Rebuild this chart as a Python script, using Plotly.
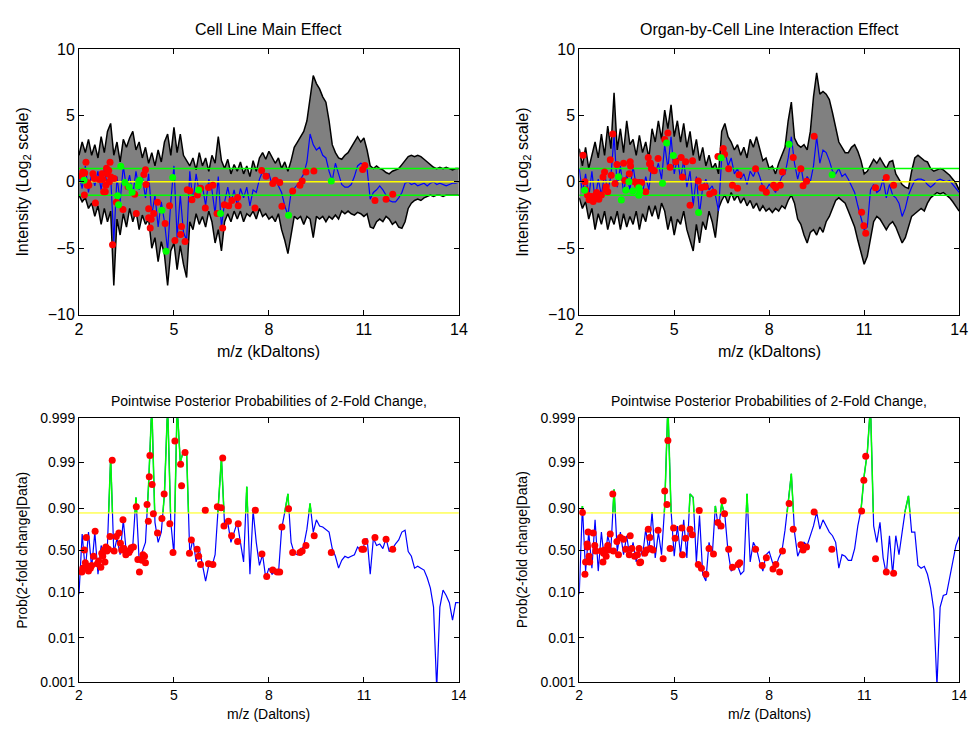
import numpy as np
import plotly.graph_objects as go

# ---------------- data ----------------
MZ = [2.0, 2.1, 2.2, 2.3, 2.4, 2.5, 2.6, 2.7, 2.8, 2.9,
      3.0, 3.1, 3.2, 3.3, 3.4, 3.5, 3.6, 3.7, 3.8, 3.9,
      4.0, 4.1, 4.2, 4.3, 4.4, 4.5, 4.6, 4.7, 4.8, 4.9,
      5.0, 5.1, 5.2, 5.3, 5.4, 5.5, 5.6, 5.7, 5.8, 5.9,
      6.0, 6.1, 6.2, 6.3, 6.4, 6.5, 6.6, 6.7, 6.8, 6.9,
      7.0, 7.1, 7.2, 7.3, 7.4, 7.5, 7.6, 7.7, 7.8, 7.9,
      8.0, 8.1, 8.2, 8.3, 8.4, 8.5, 8.6, 8.7, 8.8, 8.9,
      9.0, 9.1, 9.2, 9.3, 9.4, 9.5, 9.6, 9.7, 9.8, 9.9,
      10.0, 10.1, 10.2, 10.3, 10.4, 10.5, 10.6, 10.7, 10.8, 10.9,
      11.0, 11.1, 11.2, 11.3, 11.4, 11.5, 11.6, 11.7, 11.8, 11.9,
      12.0, 12.1, 12.2, 12.3, 12.4, 12.5, 12.6, 12.7, 12.8, 12.9,
      13.0, 13.1, 13.2, 13.3, 13.4, 13.5, 13.6, 13.7, 13.8, 13.9,
      14.0]

# Cell line main effect: upper / lower credible band and posterior mean (log2)
CL_UPPER = [2.0, 3.0, 2.2, 3.2, 2.0, 2.8, 1.8, 3.4, 2.2, 3.8,
            4.4, 2.0, 3.0, 1.5, 3.2, 2.6, 3.3, 3.8, 2.4, 3.0,
            1.8, 2.6, 1.4, 2.2, 1.2, 2.4, 1.5, 3.0, 3.6, 2.0,
            4.1, 2.2, 3.6, 2.0, 1.6, 1.2, 1.8, 0.9, 2.2, 1.2,
            1.8, 0.8, 2.0, 1.4, 3.4, 1.6, 1.0, 1.7, 0.6, 1.3,
            0.8, 1.5, 0.6, 1.2, 0.4, 1.6, 0.8, 1.8, 2.2, 1.7,
            2.3, 1.8, 1.4, 1.8, 1.0, 1.5, 0.8, 1.6, 2.6, 3.0,
            3.4, 3.8, 4.6, 6.5, 8.0, 7.4, 7.0, 6.4, 6.0, 4.6,
            2.8, 2.2, 1.8, 1.7, 2.0, 2.2, 2.6, 3.0, 3.4, 3.0,
            3.3, 2.4, 1.2, 1.0, 1.2, 1.0, 0.9, 0.7, 0.6, 0.8,
            0.9, 1.0, 1.3, 1.6, 1.9, 2.0, 1.9, 2.0, 1.9, 1.7,
            1.5, 1.3, 1.1, 1.0, 1.1, 1.0, 1.1, 1.0, 0.9, 1.0,
            1.0]
CL_LOWER = [-1.0, -1.5, -1.2, -2.0, -1.6, -2.6, -1.8, -3.2, -2.0, -3.0,
            -2.2, -7.8, -2.8, -4.0, -2.4, -3.4, -2.0, -3.0, -2.2, -3.6,
            -2.5, -3.2, -2.8, -5.0, -4.2, -6.0, -4.5, -5.5, -7.8, -5.2,
            -4.6, -6.6, -4.8, -6.2, -7.2, -3.0, -3.6, -2.4, -3.2, -2.6,
            -3.4, -2.2, -3.0, -4.6, -3.6, -5.2, -3.0, -2.4, -3.0, -2.2,
            -2.8, -2.2, -3.0, -2.4, -2.6, -2.2, -2.8, -2.0, -2.6, -2.4,
            -2.8, -2.6, -3.0, -2.4, -3.6, -4.4, -5.4, -4.0, -2.6, -2.8,
            -2.6, -3.2, -2.6, -2.8, -4.2, -2.6, -2.8, -2.6, -3.0, -2.6,
            -2.8, -2.5, -2.8, -2.2, -2.4, -2.2, -2.4, -2.5, -2.3, -2.4,
            -2.6, -2.4, -3.4, -3.5, -3.0, -2.8, -3.0, -2.6, -2.8, -3.2,
            -3.0, -3.4, -3.5, -3.0, -2.0, -1.6, -1.4, -1.3, -1.4, -1.2,
            -1.1, -1.0, -1.1, -1.0, -1.0, -1.1, -1.0, -1.0, -1.0, -1.0,
            -1.0]
CL_MEAN = [0.5, -0.5, 1.2, -0.8, 0.6, -0.3, 0.8, -0.6, 1.0, -0.4,
           0.5, -4.5, 0.4, -1.5, 1.2, -0.5, 0.5, -1.0, 0.8, -0.6,
           0.4, -1.2, 0.6, -2.5, -1.0, -3.4, -1.5, -3.0, -5.2, -1.5,
           1.2, -4.2, -1.0, -3.8, -4.4, 0.8, -1.5, 0.6, -0.8, -0.3,
           -1.8, 0.2, -0.6, -2.4, 0.4, -3.4, -1.5, -0.4, -1.6, -0.6,
           -1.8, -0.5, -1.2, -0.4, -1.8, -0.6, -0.8, 0.2, 0.8, 0.4,
           0.6, -0.2, 0.2, -0.3, -0.8, -1.8, -2.5, -0.8, -0.5, -0.2,
           0.2, 0.6, 1.5, 3.6, 2.8, 2.4, 2.6, 2.0, 1.8, 0.8,
           0.1, 1.4, 0.6, -0.2, -0.4, -0.4, -0.2, 0.4, 1.2, 1.4,
           1.3, 1.0, -1.3, -0.8, -0.6, -0.3, -0.6, -1.0, -1.4, -1.5,
           -1.5, -1.2, -0.8, -0.1, 0.0, -0.2, -0.1, -0.3, -0.2, -0.1,
           -0.3, -0.1, 0.0, -0.2, -0.1, -0.2, -0.3, -0.2, -0.1, -0.1,
           0.0]

# Organ-by-cell line interaction effect
OC_UPPER = [2.5, 1.2, 2.6, 1.0, 2.0, 3.0, 1.8, 3.6, 2.0, 4.2,
            2.5, 6.7, 2.4, 4.0, 2.2, 4.6, 2.8, 3.2, 2.0, 3.5,
            2.2, 3.0, 1.8, 4.0, 3.0, 4.6, 3.2, 5.4, 4.0, 5.8,
            3.4, 4.6, 3.0, 4.4, 2.6, 3.8, 2.0, 3.2, 1.6, 2.6,
            1.2, 2.0, 1.0, 1.4, 0.6, 3.8, 4.4, 3.4, 3.0, 2.4,
            2.8, 2.0, 2.6, 1.8, 3.2, 2.6, 3.4, 2.4, 1.6, 1.8,
            1.0, 1.2, 0.6, 1.4, 2.0, 2.6, 4.6, 6.0, 3.3, 2.8,
            2.6, 2.8, 2.4, 3.8, 6.4, 8.2, 6.6, 6.8, 6.6, 6.2,
            5.2, 4.0, 3.0, 2.6, 2.2, 2.2, 2.6, 2.8, 2.3, 1.6,
            0.6, 0.8, 1.2, 1.7, 1.4, 1.8, 1.4, 1.0, 1.5, 1.6,
            0.6, 0.2, -0.2, -0.4, -0.5, 0.8, 1.8, 2.0, 1.8, 1.6,
            1.5, 1.0, 0.8, 0.9, 1.0, 0.9, 0.7, 0.5, 0.2, -0.1,
            -0.6]
OC_LOWER = [-1.2, -2.0, -1.5, -2.8, -2.0, -3.6, -2.4, -3.2, -2.2, -3.6,
            -2.6, -3.2, -2.2, -3.6, -2.4, -3.4, -2.6, -3.2, -2.2, -3.6,
            -2.4, -3.0, -1.8, -2.6, -1.8, -2.8, -1.6, -2.2, -3.6, -2.6,
            -4.0, -2.8, -3.2, -2.2, -3.6, -4.4, -5.2, -3.2, -4.6, -3.0,
            -3.6, -2.2, -3.0, -4.2, -2.0, -1.4, -1.0, -1.6, -0.8, -1.4,
            -1.0, -1.6, -1.2, -1.8, -1.4, -2.0, -1.6, -2.2, -1.8, -2.2,
            -2.0, -2.3, -2.0, -2.2, -1.8, -2.0, -1.4, -1.0, -1.6, -2.8,
            -3.2, -4.0, -4.6, -3.8, -3.6, -4.0, -3.4, -3.8, -3.0, -2.6,
            -2.0, -1.4, -1.2, -1.4, -1.6, -2.2, -2.8, -3.4, -4.4, -5.2,
            -6.2, -5.6, -4.2, -3.0, -2.6, -2.8, -3.2, -3.6, -3.2, -3.0,
            -3.4, -4.0, -4.6, -4.2, -3.4, -2.6, -2.4, -2.2, -2.0, -2.2,
            -1.6, -1.2, -1.0, -0.8, -0.9, -0.8, -1.0, -1.2, -1.5, -1.9,
            -2.2]
OC_MEAN = [1.0, -0.8, 0.6, -1.2, 0.8, -1.4, 0.2, -1.0, 0.6, -0.6,
           0.4, 3.5, -0.4, 1.2, -0.8, 0.6, -0.6, 1.2, -0.4, 0.2,
           -0.8, 0.4, -0.6, 1.6, 0.6, 1.4, 0.2, 2.8, 1.0, 3.4,
           0.6, 1.8, 0.2, 1.6, -0.4, 0.8, -1.8, 0.4, -2.4, -0.4,
           0.2, -0.6, -0.3, -1.0, -2.2, 1.8, 2.4, 1.2, 1.8, 0.6,
           1.0, 0.2, 0.6, -0.2, 0.8, 0.4, 1.0, 0.4, -0.4, -0.6,
           -0.2, -0.4, -0.8, -0.2, 0.4, 0.6, 1.8, 3.4, 1.4, 0.2,
           1.2, -0.2, 0.4, 0.0, 1.2, 3.4, 1.4, 2.4, 2.2, 1.6,
           0.8, 0.6, 1.0, 0.4, 0.6, 0.2, -0.3, -0.8, -1.8, -2.6,
           -3.6, -3.4, -0.6, -0.2, -0.8, -0.6, 0.2, -1.2, -0.2, -1.0,
           -1.2, -1.6, -2.6, -2.0, -1.0, -0.4, 0.1, 0.2, 0.2, 0.1,
           -0.2, -0.4, -0.2, 0.1, 0.2, 0.1, 0.0, 0.1, -0.2, -0.5,
           -0.8]

# flagged locations (top panels)
CL_RED_X = [2.08, 2.12, 2.17, 2.18, 2.22, 2.26, 2.28, 2.31, 2.44, 2.49,
            2.52, 2.64, 2.70, 2.73, 2.75, 2.78, 2.83, 2.85, 2.87, 2.90,
            2.94, 2.96, 2.98, 3.01, 3.06, 3.11, 3.18, 3.39, 3.55, 3.76,
            3.81, 4.05, 4.10, 4.12, 4.20, 4.20, 4.25, 4.28, 4.36, 4.48,
            4.72, 4.86, 5.03, 5.21, 5.24, 5.35, 5.42, 5.50, 5.57, 5.74,
            5.84, 5.99, 6.09, 6.23, 6.36, 6.54, 6.59, 6.73, 6.83, 7.01,
            7.03, 7.56, 7.77, 7.91, 8.12, 8.20, 8.34, 8.41, 8.75, 8.98,
            9.05, 9.17, 9.42, 10.96, 11.03, 11.35, 11.70, 11.91]
CL_RED_Y = [0.44, 0.74, -0.98, 0.66, 1.47, -0.25, -0.07, -0.25, 0.61, 0.25,
            -1.59, 0.17, 0.25, 0.61, 0.17, -0.74, -0.74, -0.25, 1.03, 0.61,
            0.86, 0.0, 1.47, 0.37, -4.73, 0.25, -1.54, -2.08, -0.37, -0.93,
            -2.38, 0.56, 0.91, -0.2, -2.03, -2.7, -3.48, -2.82, -2.38, -1.54,
            -3.14, -1.79, -4.41, -3.97, -3.36, -4.49, -0.6, -0.66, -1.35, -0.98,
            -0.49, -1.96, -0.42, -0.25, -2.38, -3.48, -1.72, -1.79, -1.40, -1.18,
            -1.79, -1.96, 0.86, 0.42, -0.12, 0.12, -0.05, -1.84, -0.69, -0.25,
            0.07, 0.74, 0.81, 0.93, 1.23, -1.40, -1.30, -0.93]
CL_GRN_X = [2.16, 3.22, 3.25, 3.32, 3.45, 3.58, 3.68, 3.87, 3.89, 3.92,
            4.62, 4.75, 4.96, 5.78, 6.47, 8.62, 9.97]
CL_GRN_Y = [0.12, -1.05, -1.72, 1.18, -0.05, -0.37, -0.78, -0.32, 0.0, 0.12,
            -2.13, -5.22, 0.32, -0.61, -2.38, -2.52, 0.07]

OC_RED_X = [2.12, 2.18, 2.20, 2.26, 2.31, 2.38, 2.44, 2.48, 2.52, 2.55,
            2.62, 2.70, 2.75, 2.80, 2.84, 2.85, 2.90, 2.98, 3.01, 3.06,
            3.13, 3.19, 3.40, 3.44, 3.58, 3.61, 3.62, 3.75, 3.84, 3.86,
            3.97, 4.10, 4.18, 4.22, 4.25, 4.28, 4.35, 4.37, 4.49, 4.70,
            4.80, 4.87, 5.05, 5.22, 5.26, 5.36, 5.50, 5.58, 5.76, 5.86,
            5.98, 6.12, 6.25, 6.38, 6.55, 6.59, 6.72, 6.84, 7.00, 7.05,
            7.57, 7.78, 7.91, 8.14, 8.21, 8.35, 8.42, 8.76, 9.00, 9.07,
            9.18, 9.42, 10.92, 10.99, 11.05, 11.36, 11.70, 11.93]
OC_RED_Y = [2.01, 0.0, -0.59, -0.98, -1.35, -1.10, -1.47, -1.2, -0.98, -0.8,
            -1.3, -0.98, 0.37, 0.74, -0.6, -0.37, -0.74, 1.67, 0.49, 3.60,
            -0.12, 1.30, 1.40, 0.1, 0.61, 1.52, 1.2, 0.0, -0.25, -0.05,
            -0.05, -0.74, 1.84, 1.37, 1.40, 0.98, 0.86, 0.83, 1.76, 3.19,
            3.68, 1.10, 1.52, 1.84, 0.37, 1.52, -1.76, 1.59, 0.07, -0.42,
            -0.37, -0.91, -0.78, 1.91, 2.52, 2.08, 0.98, -0.25, -0.49, 0.54,
            0.98, -0.49, -0.78, -0.25, -0.44, -0.25, 0.74, 1.84, 0.98, -0.29,
            0.05, 3.43, -2.28, -3.31, -3.87, -0.44, 0.32, -0.25]
OC_GRN_X = [2.17, 3.24, 3.33, 3.47, 3.57, 3.69, 3.88, 3.91, 3.88, 4.63,
            4.76, 4.97, 5.77, 6.48, 8.63, 9.99]
OC_GRN_Y = [-0.64, 0.39, -1.37, -0.64, 0.0, -0.69, -0.44, -0.69, -1.0, -0.1,
            2.92, 1.99, -2.30, 1.82, 2.84, 0.54]

# posterior probability of 2-fold change (bottom panels)
CL_PROB = [0.09, 0.70, 0.25, 0.72, 0.28, 0.72, 0.22, 0.56, 0.40, 0.58,
           0.992, 0.46, 0.65, 0.44, 0.83, 0.44, 0.52, 0.56, 0.94, 0.37,
           0.48, 0.60, 0.97, 0.9995, 0.81, 0.60, 0.72, 0.95, 0.9995, 0.81,
           0.44, 0.9995, 0.99, 0.9945, 0.994, 0.44, 0.65, 0.35, 0.52, 0.30,
           0.165, 0.31, 0.30, 0.44, 0.91, 0.992, 0.78, 0.81, 0.60, 0.72,
           0.81, 0.60, 0.35, 0.965, 0.22, 0.89, 0.60, 0.31, 0.44, 0.19,
           0.28, 0.22, 0.25, 0.22, 0.75, 0.88, 0.95, 0.60, 0.46, 0.44,
           0.48, 0.56, 0.75, 0.92, 0.72, 0.83, 0.78, 0.77, 0.75, 0.72,
           0.52, 0.42, 0.28, 0.37, 0.42, 0.40, 0.42, 0.44, 0.54, 0.50,
           0.56, 0.65, 0.22, 0.65, 0.56, 0.58, 0.52, 0.65, 0.48, 0.52,
           0.58, 0.63, 0.72, 0.74, 0.48, 0.42, 0.28, 0.30, 0.28, 0.26,
           0.19, 0.12, 0.048, 0.0007, 0.048, 0.11, 0.085, 0.06, 0.025, 0.06,
           0.06]
OC_PROB = [0.09, 0.91, 0.25, 0.72, 0.28, 0.83, 0.25, 0.72, 0.35, 0.68,
           0.52, 0.96, 0.48, 0.72, 0.44, 0.68, 0.40, 0.60, 0.35, 0.56,
           0.42, 0.75, 0.48, 0.88, 0.40, 0.72, 0.44, 0.91, 0.9995, 0.89,
           0.42, 0.78, 0.44, 0.83, 0.40, 0.95, 0.94, 0.35, 0.86, 0.22,
           0.165, 0.60, 0.42, 0.91, 0.75, 0.92, 0.86, 0.48, 0.25, 0.28,
           0.31, 0.22, 0.25, 0.95, 0.35, 0.60, 0.52, 0.35, 0.25, 0.44,
           0.48, 0.35, 0.28, 0.40, 0.48, 0.74, 0.92, 0.982, 0.72, 0.42,
           0.52, 0.60, 0.56, 0.68, 0.78, 0.88, 0.75, 0.83, 0.78, 0.72,
           0.68, 0.60, 0.28, 0.44, 0.42, 0.37, 0.37, 0.52, 0.78, 0.89,
           0.98, 0.994, 0.9995, 0.78, 0.60, 0.81, 0.40, 0.22, 0.68, 0.22,
           0.68, 0.44, 0.72, 0.89, 0.945, 0.72, 0.72, 0.31, 0.28, 0.30,
           0.22, 0.12, 0.042, 0.0008, 0.048, 0.085, 0.09, 0.19, 0.35, 0.56,
           0.67]

CL_PDOT_X = [2.09, 2.17, 2.20, 2.23, 2.30, 2.46, 2.51, 2.69, 2.75, 2.82,
             2.85, 2.93, 2.98, 3.05, 3.11, 3.18, 3.26, 3.31, 3.39, 3.48,
             3.58, 3.65, 3.72, 3.81, 3.86, 3.91, 3.99, 4.07, 4.10, 4.15,
             4.19, 4.22, 4.24, 4.31, 4.35, 4.48, 4.62, 4.69, 4.87, 4.97,
             5.03, 5.21, 5.24, 5.35, 5.49, 5.55, 5.73, 5.78, 5.84, 5.99,
             6.09, 6.23, 6.37, 6.49, 6.54, 6.58, 6.72, 6.82, 7.01, 7.03,
             7.57, 7.78, 7.93, 8.12, 8.26, 8.34, 8.41, 8.62, 8.75, 8.98,
             9.05, 9.17, 9.43, 9.97, 10.94, 10.99, 11.04, 11.35, 11.70, 11.91,
             2.12, 2.26, 2.36, 2.40, 2.58, 2.62, 2.72, 2.79, 2.88, 3.35,
             3.42, 3.52, 3.62, 4.02]
CL_PDOT_P = [0.24, 0.50, 0.34, 0.66, 0.25, 0.42, 0.73, 0.29, 0.42, 0.35,
             0.54, 0.51, 0.67, 0.991, 0.49, 0.67, 0.71, 0.59, 0.83, 0.44,
             0.47, 0.53, 0.54, 0.906, 0.38, 0.24, 0.37, 0.42, 0.34, 0.916,
             0.82, 0.979, 0.993, 0.969, 0.87, 0.71, 0.84, 0.95, 0.80, 0.47,
             0.9967, 0.989, 0.967, 0.994, 0.46, 0.63, 0.51, 0.42, 0.32, 0.89,
             0.33, 0.32, 0.906, 0.902, 0.992, 0.78, 0.82, 0.68, 0.61, 0.80,
             0.89, 0.45, 0.20, 0.26, 0.24, 0.24, 0.77, 0.897, 0.47, 0.47,
             0.49, 0.56, 0.68, 0.47, 0.51, 0.51, 0.61, 0.66, 0.64, 0.51,
             0.28, 0.30, 0.28, 0.31, 0.33, 0.36, 0.46, 0.50, 0.49, 0.50,
             0.52, 0.48, 0.50, 0.44]
OC_PDOT_X = [2.10, 2.18, 2.20, 2.25, 2.26, 2.28, 2.31, 2.33, 2.44, 2.49,
             2.52, 2.69, 2.75, 2.77, 2.80, 2.85, 2.90, 2.93, 2.98, 3.06,
             3.08, 3.19, 3.24, 3.30, 3.40, 3.47, 3.58, 3.61, 3.66, 3.75,
             3.84, 3.89, 3.91, 3.94, 4.07, 4.13, 4.18, 4.23, 4.25, 4.33,
             4.49, 4.65, 4.70, 4.77, 4.80, 4.87, 4.98, 5.03, 5.24, 5.26,
             5.36, 5.50, 5.57, 5.76, 5.79, 5.86, 6.00, 6.10, 6.24, 6.38,
             6.48, 6.55, 6.59, 6.72, 6.84, 7.02, 7.07, 7.57, 7.78, 7.91,
             8.12, 8.21, 8.33, 8.42, 8.63, 8.76, 9.00, 9.07, 9.18, 9.42,
             9.98, 10.92, 10.99, 11.05, 11.36, 11.70, 11.93]
OC_PDOT_P = [0.877, 0.22, 0.35, 0.58, 0.54, 0.72, 0.42, 0.35, 0.71, 0.56,
             0.49, 0.49, 0.35, 0.46, 0.50, 0.42, 0.56, 0.50, 0.70, 0.95,
             0.49, 0.61, 0.44, 0.66, 0.64, 0.51, 0.44, 0.68, 0.52, 0.42,
             0.44, 0.52, 0.34, 0.35, 0.46, 0.50, 0.75, 0.66, 0.52, 0.50,
             0.74, 0.39, 0.957, 0.916, 0.9968, 0.52, 0.76, 0.65, 0.76, 0.44,
             0.65, 0.75, 0.69, 0.32, 0.889, 0.28, 0.22, 0.52, 0.45, 0.81,
             0.78, 0.93, 0.87, 0.51, 0.29, 0.32, 0.34, 0.51, 0.31, 0.40,
             0.27, 0.32, 0.24, 0.49, 0.92, 0.75, 0.57, 0.50, 0.54, 0.88,
             0.51, 0.886, 0.975, 0.9927, 0.39, 0.24, 0.23]

PROB_THRESHOLD = 0.875
FOLD_LINES = [-1.0, 1.0]
X_TICKS = [2, 5, 8, 11, 14]
Y_TICKS_TOP = [-10, -5, 0, 5, 10]
P_TICKS = [0.001, 0.01, 0.1, 0.5, 0.9, 0.99, 0.999]
P_TICKTEXT = ["0.001", "0.01", "0.10", "0.50", "0.90", "0.99", "0.999"]

# ---------------- helpers ----------------
FONT = "Liberation Sans, Arial, sans-serif"
W, H = 977, 732


def logit(p):
    p = np.asarray(p, dtype=float)
    return np.log(p / (1.0 - p))


def above_segments(x, yv, thr):
    gx, gy = [], []
    for i in range(len(x) - 1):
        x0, x1, y0, y1 = x[i], x[i + 1], yv[i], yv[i + 1]
        a0, a1 = y0 > thr, y1 > thr
        if not (a0 or a1):
            continue
        if a0 and a1:
            seg = [(x0, y0), (x1, y1)]
        else:
            t = (thr - y0) / (y1 - y0)
            xc = x0 + t * (x1 - x0)
            seg = [(xc, thr), (x1, y1)] if a1 else [(x0, y0), (xc, thr)]
        gx += [seg[0][0], seg[1][0], None]
        gy += [seg[0][1], seg[1][1], None]
    return gx, gy


fig = go.Figure()

GRAY = "#808080"
BLUE = "#0000ff"
RED = "#ff0000"
GREEN = "#00ff00"
YELLOW = "#ffff00"


def top_panel(xa, ya, upper, lower, mean, rx, ry, gx, gy):
    fig.add_trace(go.Scatter(x=MZ, y=lower, mode="lines", line=dict(color="black", width=1.5),
                             xaxis=xa, yaxis=ya, showlegend=False, hoverinfo="skip"))
    fig.add_trace(go.Scatter(x=MZ, y=upper, mode="lines", line=dict(color="black", width=1.5),
                             fill="tonexty", fillcolor=GRAY,
                             xaxis=xa, yaxis=ya, showlegend=False, hoverinfo="skip"))
    fig.add_trace(go.Scatter(x=MZ, y=mean, mode="lines", line=dict(color=BLUE, width=1.2),
                             xaxis=xa, yaxis=ya, showlegend=False))
    fig.add_trace(go.Scatter(x=[MZ[0], MZ[-1]], y=[0, 0], mode="lines",
                             line=dict(color=YELLOW, width=1.5),
                             xaxis=xa, yaxis=ya, showlegend=False, hoverinfo="skip"))
    for lv in FOLD_LINES:
        fig.add_trace(go.Scatter(x=[MZ[0], MZ[-1]], y=[lv, lv], mode="lines",
                                 line=dict(color=GREEN, width=1.5),
                                 xaxis=xa, yaxis=ya, showlegend=False, hoverinfo="skip"))
    fig.add_trace(go.Scatter(x=rx, y=ry, mode="markers", marker=dict(color=RED, size=7),
                             xaxis=xa, yaxis=ya, showlegend=False))
    fig.add_trace(go.Scatter(x=gx, y=gy, mode="markers", marker=dict(color=GREEN, size=7),
                             xaxis=xa, yaxis=ya, showlegend=False))


def bottom_panel(xa, ya, prob, dx, dp):
    L = logit(prob)
    Lt = float(logit(PROB_THRESHOLD))
    fig.add_trace(go.Scatter(x=MZ, y=L, mode="lines", line=dict(color=BLUE, width=1.2),
                             xaxis=xa, yaxis=ya, showlegend=False))
    gxs, gys = above_segments(MZ, L, Lt)
    fig.add_trace(go.Scatter(x=gxs, y=gys, mode="lines", line=dict(color=GREEN, width=1.5),
                             xaxis=xa, yaxis=ya, showlegend=False, hoverinfo="skip"))
    fig.add_trace(go.Scatter(x=[MZ[0], MZ[-1]], y=[Lt, Lt], mode="lines",
                             line=dict(color=YELLOW, width=1),
                             xaxis=xa, yaxis=ya, showlegend=False, hoverinfo="skip"))
    fig.add_trace(go.Scatter(x=dx, y=logit(dp), mode="markers", marker=dict(color=RED, size=7),
                             xaxis=xa, yaxis=ya, showlegend=False))


top_panel("x", "y", CL_UPPER, CL_LOWER, CL_MEAN, CL_RED_X, CL_RED_Y, CL_GRN_X, CL_GRN_Y)
top_panel("x2", "y2", OC_UPPER, OC_LOWER, OC_MEAN, OC_RED_X, OC_RED_Y, OC_GRN_X, OC_GRN_Y)
bottom_panel("x3", "y3", CL_PROB, CL_PDOT_X, CL_PDOT_P)
bottom_panel("x4", "y4", OC_PROB, OC_PDOT_X, OC_PDOT_P)

# ---------------- layout ----------------
LEFT_X = [76 / W, 461 / W]
RIGHT_X = [583 / W, 968 / W]
TOP_Y = [1 - 314 / H, 1 - 42 / H]
BOT_Y = [1 - 690 / H, 1 - 420 / H]


def axis(domain, anchor, fsize, **kw):
    d = dict(domain=domain, anchor=anchor, showline=True, linecolor="black", linewidth=1,
             mirror="ticks", ticks="inside", ticklen=5, tickcolor="black", tickwidth=1,
             showgrid=False, zeroline=False,
             tickfont=dict(family=FONT, size=fsize, color="black"))
    d.update(kw)
    return d


LP = float(logit(0.999))
fig.update_layout(
    width=W, height=H, margin=dict(l=0, r=0, t=0, b=0),
    paper_bgcolor="white", plot_bgcolor="white", showlegend=False,
    xaxis=axis(LEFT_X, "y", 16, range=[2, 14], tickvals=X_TICKS),
    yaxis=axis(TOP_Y, "x", 16, range=[-10, 10], tickvals=Y_TICKS_TOP),
    xaxis2=axis(RIGHT_X, "y2", 16, range=[2, 14], tickvals=X_TICKS),
    yaxis2=axis(TOP_Y, "x2", 16, range=[-10, 10], tickvals=Y_TICKS_TOP),
    xaxis3=axis(LEFT_X, "y3", 14, range=[2, 14], tickvals=X_TICKS),
    yaxis3=axis(BOT_Y, "x3", 14, range=[-LP, LP], tickvals=list(logit(P_TICKS)), ticktext=P_TICKTEXT),
    xaxis4=axis(RIGHT_X, "y4", 14, range=[2, 14], tickvals=X_TICKS),
    yaxis4=axis(BOT_Y, "x4", 14, range=[-LP, LP], tickvals=list(logit(P_TICKS)), ticktext=P_TICKTEXT),
)


def txt(text, xpx, ypx, size, angle=0):
    fig.add_annotation(text=text, x=xpx / W, y=1 - ypx / H, xref="paper", yref="paper",
                       showarrow=False, textangle=angle, xanchor="center", yanchor="middle",
                       font=dict(family=FONT, size=size, color="black"))


txt("Cell Line Main Effect", 268.5, 22, 16)
txt("Organ-by-Cell Line Interaction Effect", 775.5, 22, 16)
txt("m/z (kDaltons)", 268.5, 352, 16)
txt("m/z (kDaltons)", 775.5, 352, 16)
txt("Intensity (Log<sub>2</sub> scale)", 20, 178, 16, -90)
txt("Intensity (Log<sub>2</sub> scale)", 527, 178, 16, -90)
txt("Pointwise Posterior Probabilities of 2-Fold Change,", 268.5, 402, 14)
txt("Pointwise Posterior Probabilities of 2-Fold Change,", 775.5, 402, 14)
txt("m/z (Daltons)", 268.5, 723, 14)
txt("m/z (Daltons)", 775.5, 723, 14)
txt("Prob(2-fold change|Data)", 18, 555, 14, -90)
txt("Prob(2-fold change|Data)", 525, 555, 14, -90)

fig.write_html("out.html")
